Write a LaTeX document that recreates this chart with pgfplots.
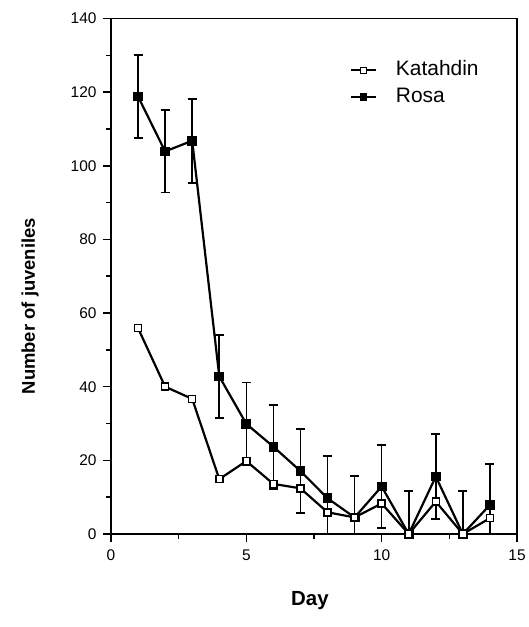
\documentclass[border=0pt]{standalone}
\usepackage{pgfplots}
\pgfplotsset{compat=1.18}
\usepackage{fontspec}
\setmainfont{Liberation Sans}
\begin{document}
\begin{tikzpicture}
\begin{axis}[
  scale only axis,
  width=406bp, height=515.5bp,
  xmin=0, xmax=15, ymin=0, ymax=140,
  xtick={0,5,10,15}, ytick={0,20,...,140},
  minor x tick num=1, minor y tick num=1,
  tick align=outside,
  major tick length=8bp, minor tick length=5bp,
  xtick pos=bottom, ytick pos=left,
  axis line style={line width=1.8bp},
  every tick/.style={line width=1.5bp, black},
  /pgf/number format/assume math mode=true,
  xticklabel={\fontsize{15.5}{17}\selectfont\pgfmathprintnumber[assume math mode=true]{\tick}},
  yticklabel={\fontsize{15.5}{17}\selectfont\pgfmathprintnumber[assume math mode=true]{\tick}},
  xticklabel style={yshift=-4bp},
  yticklabel style={xshift=-3bp},
  xlabel={Day}, ylabel={Number of juveniles},
  xlabel style={font=\fontsize{20.5}{22}\selectfont\bfseries, at={(axis description cs:0.49,-0.13)}, anchor=center},
  ylabel style={font=\fontsize{18.5}{20}\selectfont\bfseries, at={(axis description cs:-0.1995,0.442)}, anchor=center, rotate=0},
  reverse legend,
  legend style={draw=none, fill=none, at={(axis description cs:0.581,0.922)}, anchor=north west,
    font=\fontsize{21}{23}\selectfont, row sep=7.5bp,
    nodes={inner sep=0pt, text height=15bp, text depth=4bp}},
  legend cell align=left,
  legend image code/.code={%
    \path[draw=none] (0bp,0bp) -- (45bp,0bp);
    \draw[#1, line width=1.8bp] (0bp,0bp) -- (25bp,0bp);
    \draw[#1, line width=1.4bp, mark size=3bp] plot coordinates {(12.5bp,0bp)};},
]
\addplot[black, line width=2.2bp, mark=square*, mark size=3.8bp, mark options={solid, fill=black},
  error bars/.cd, y dir=both, y explicit, error bar style={line width=1.6bp},
  error mark options={rotate=90, mark size=4.5bp, line width=1.6bp}]
  coordinates {
  (1,118.8) +- (0,11.3)
  (2,103.9) +- (0,11.2)
  (3,106.8) +- (0,11.4)
  (4,42.8) +- (0,11.3)
  (5,29.9) +- (0,11.2)
  (6,23.7) +- (0,11.4)
  (7,17.1) +- (0,11.4)
  (8,9.7) +- (0,11.5)
  (9,4.5) +- (0,11.3)
  (10,12.9) +- (0,11.2)
  (11,0) +- (0,11.7)
  (12,15.6) +- (0,11.6)
  (13,0) +- (0,11.7)
  (14,7.9) +- (0,11.1)
  };
\addlegendentry{Rosa}
\addplot[black, line width=2.2bp, mark=square*, mark size=3.5bp, mark options={solid, fill=white, line width=1.5bp}]
  coordinates {
  (1,55.9) (2,40.0) (3,36.7) (4,14.9) (5,19.8) (6,13.6) (7,12.4)
  (8,5.9) (9,4.5) (10,8.3) (11,0) (12,8.8) (13,0) (14,4.3)
  };
\addlegendentry{Katahdin}
\coordinate (sw) at (rel axis cs:0,0);
\coordinate (ne) at (rel axis cs:1,1);
\end{axis}
\path (sw) ++(-111bp,-93bp) rectangle ([shift={(8bp,18.5bp)}]ne);
\end{tikzpicture}
\end{document}
